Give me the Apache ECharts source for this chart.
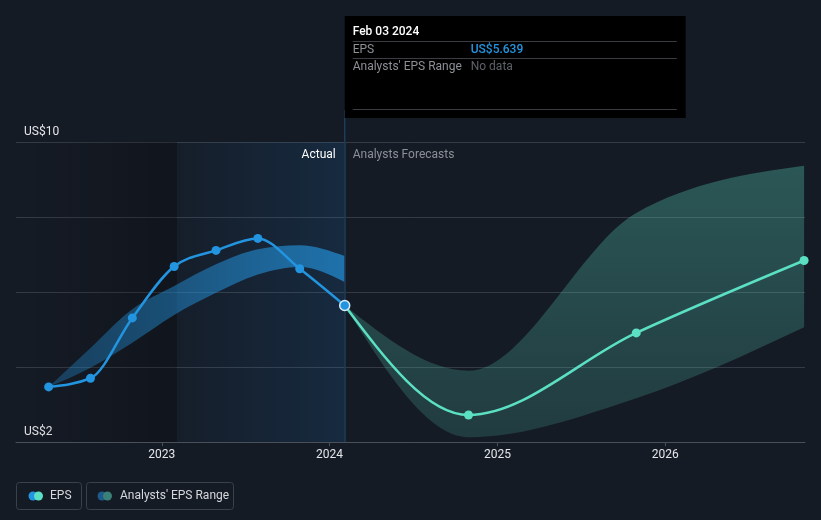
<!DOCTYPE html>
<html>
<head>
<meta charset="utf-8">
<script src="https://cdn.jsdelivr.net/npm/echarts@6/dist/echarts.min.js"></script>
<style>
  html, body { margin: 0; padding: 0; background: #151b25; }
  #chart { width: 821px; height: 520px; }
</style>
</head>
<body>
<div id="chart"></div>
<script>
// 实际 EPS（季度）
const epsDates = ['2022-04-30', '2022-07-30', '2022-10-29', '2023-01-28', '2023-04-29', '2023-07-29', '2023-10-28', '2024-02-03']
const epsValues = [3.47, 3.70, 5.31, 6.68, 7.11, 7.43, 6.62, 5.639]
// 过去的分析师区间
const pastLow = [3.47, 3.98, 4.65, 5.39, 5.98, 6.47, 6.67, 6.27]
const pastHigh = [3.47, 4.51, 5.54, 6.16, 6.74, 7.14, 7.25, 6.96]

// 预测
const fcDates = ['2024-02-03', '2024-10-30', '2025-10-30', '2026-10-30']
const fcValues = [5.639, 2.72, 4.91, 6.84]
const fcLow = [5.639, 2.13, 3.17, 5.06]
const fcHigh = [5.639, 3.90, 8.11, 9.37]

// 坐标轴
const xStart = '2022-02-18'
const xEnd = '2026-11-01'
const highlightStart = '2023-02-03'
const todayDate = '2024-02-03'
const yearTicks = [2023, 2024, 2025, 2026]
const yTickLabels = [2, 10]

const BLUE = '#2394df'
const MINT = '#5ce0c4'

// 日期 -> 小数年份
const toYear = (s) => {
  const d = new Date(s + 'T00:00:00Z')
  const y = d.getUTCFullYear()
  const a = Date.UTC(y, 0, 1)
  const b = Date.UTC(y + 1, 0, 1)
  return y + (d.getTime() - a) / (b - a)
}

const pair = (dates, vals) => dates.map((d, i) => [toYear(d), vals[i]])

// 单调三次曲线（同 d3 curveMonotoneX），返回每段贝塞尔控制点
const monotoneSegs = (pts) => {
  const n = pts.length
  const h = []
  const s = []
  for (let i = 0; i < n - 1; i++) {
    h[i] = pts[i + 1][0] - pts[i][0]
    s[i] = (pts[i + 1][1] - pts[i][1]) / h[i]
  }
  const t = new Array(n)
  if (n === 2) {
    t[0] = t[1] = s[0]
  } else {
    for (let i = 1; i < n - 1; i++) {
      const s0 = s[i - 1]
      const s1 = s[i]
      const p = (s0 * h[i] + s1 * h[i - 1]) / (h[i - 1] + h[i])
      t[i] = (Math.sign(s0) + Math.sign(s1)) * Math.min(Math.abs(s0), Math.abs(s1), 0.5 * Math.abs(p)) || 0
    }
    t[0] = (3 * s[0] - t[1]) / 2
    t[n - 1] = (3 * s[n - 2] - t[n - 2]) / 2
  }
  const segs = []
  for (let i = 0; i < n - 1; i++) {
    const dx = h[i] / 3
    segs.push({
      from: pts[i],
      c1: [pts[i][0] + dx, pts[i][1] + dx * t[i]],
      c2: [pts[i + 1][0] - dx, pts[i + 1][1] - dx * t[i + 1]],
      to: pts[i + 1],
    })
  }
  return segs
}

const P = (p) => p[0].toFixed(2) + ' ' + p[1].toFixed(2)

const linePath = (pts) => {
  const segs = monotoneSegs(pts)
  return 'M ' + P(pts[0]) + segs.map((g) => ' C ' + P(g.c1) + ' ' + P(g.c2) + ' ' + P(g.to)).join('')
}

const bandPath = (hiPts, loPts) => {
  const up = monotoneSegs(hiPts)
  const lo = monotoneSegs(loPts).reverse()
  let d = 'M ' + P(hiPts[0]) + up.map((g) => ' C ' + P(g.c1) + ' ' + P(g.c2) + ' ' + P(g.to)).join('')
  d += ' L ' + P(loPts[loPts.length - 1])
  d += lo.map((g) => ' C ' + P(g.c2) + ' ' + P(g.c1) + ' ' + P(g.from)).join('')
  return d + ' Z'
}

const chart = echarts.init(document.getElementById('chart'))

const font = 'Roboto, "Noto Sans", sans-serif'

const bandSeries = (dates, hi, lo, fill) => ({
  type: 'custom',
  silent: true,
  data: [pair(dates, hi)[0]],
  renderItem: (params, api) => {
    const hiPts = pair(dates, hi).map((p) => api.coord(p))
    const loPts = pair(dates, lo).map((p) => api.coord(p))
    return { type: 'path', shape: { pathData: bandPath(hiPts, loPts) }, style: { fill: fill } }
  },
  z: 2,
})

const lineSeries = (dates, vals, color) => ({
  type: 'custom',
  silent: true,
  data: [pair(dates, vals)[0]],
  renderItem: (params, api) => {
    const pts = pair(dates, vals).map((p) => api.coord(p))
    return {
      type: 'path',
      shape: { pathData: linePath(pts) },
      style: { fill: 'none', stroke: color, lineWidth: 2.5, lineJoin: 'round', lineCap: 'round' },
    }
  },
  z: 3,
})

const option = {
  backgroundColor: '#151b25',
  animation: false,
  textStyle: { fontFamily: font },
  grid: { left: 16, right: 16, top: 142, bottom: 78 },
  xAxis: {
    type: 'value',
    min: toYear(xStart),
    max: toYear(xEnd),
    axisLine: { lineStyle: { color: '#4a5059', width: 1 } },
    axisTick: { show: true, customValues: yearTicks, length: 4, lineStyle: { color: '#4a5059' } },
    axisLabel: { customValues: yearTicks, color: '#e4e6e9', fontSize: 12, margin: 7, formatter: (v) => String(Math.round(v)) },
    splitLine: { show: false },
  },
  yAxis: {
    type: 'value',
    min: 2,
    max: 10,
    interval: 2,
    axisLine: { show: false },
    axisTick: { show: false },
    axisLabel: {
      inside: true,
      margin: 8,
      verticalAlign: 'bottom',
      padding: [0, 0, 4, 0],
      color: '#e4e6e9',
      fontSize: 12,
      formatter: (v) => (yTickLabels.includes(v) ? 'US$' + v : ''),
    },
    splitLine: { lineStyle: { color: '#353b44', width: 1 } },
  },
  series: [
    // 背景区域
    {
      type: 'line',
      data: [],
      silent: true,
      markArea: {
        silent: true,
        data: [
          [
            {
              xAxis: toYear(xStart),
              itemStyle: {
                color: {
                  type: 'linear', x: 0, y: 0, x2: 1, y2: 0,
                  colorStops: [
                    { offset: 0, color: 'rgba(0,0,0,0)' },
                    { offset: 1, color: 'rgba(0,0,0,0.22)' },
                  ],
                },
              },
            },
            { xAxis: toYear(highlightStart) },
          ],
          [
            {
              xAxis: toYear(highlightStart),
              itemStyle: {
                color: {
                  type: 'linear', x: 0, y: 0, x2: 1, y2: 0,
                  colorStops: [
                    { offset: 0, color: 'rgba(30,120,200,0.03)' },
                    { offset: 1, color: 'rgba(30,120,200,0.16)' },
                  ],
                },
              },
            },
            { xAxis: toYear(todayDate) },
          ],
        ],
      },
      markLine: {
        silent: true,
        symbol: 'none',
        label: { show: false },
        lineStyle: { color: '#1f3c58', width: 1.5, type: 'solid' },
        data: [{ xAxis: toYear(todayDate) }],
      },
    },
    // 分析师区间
    bandSeries(epsDates, pastHigh, pastLow, new echarts.graphic.LinearGradient(0, 0, 1, 0, [
      { offset: 0, color: 'rgba(35,148,223,0.3)' },
      { offset: 1, color: 'rgba(35,148,223,0.68)' },
    ])),
    bandSeries(fcDates, fcHigh, fcLow, new echarts.graphic.LinearGradient(0, 0, 0, 1, [
      { offset: 0, color: 'rgba(88,208,186,0.33)' },
      { offset: 1, color: 'rgba(88,208,186,0.18)' },
    ])),
    // EPS 线
    lineSeries(fcDates, fcValues, MINT),
    lineSeries(epsDates, epsValues, BLUE),
    // 点
    {
      name: 'EPS forecast',
      type: 'scatter',
      silent: true,
      symbolSize: 9,
      itemStyle: { color: MINT, opacity: 1 },
      data: pair(fcDates.slice(1), fcValues.slice(1)),
      z: 4,
    },
    {
      name: 'EPS',
      type: 'scatter',
      silent: true,
      symbolSize: 9,
      itemStyle: { color: BLUE, opacity: 1 },
      data: pair(epsDates, epsValues).map((p, i, arr) =>
        i === arr.length - 1
          ? { value: p, symbolSize: 10, itemStyle: { color: BLUE, borderColor: '#d9ecfa', borderWidth: 1.5 } }
          : p
      ),
      z: 5,
    },
  ],
}

chart.setOption(option)

// 顶部提示框 + 图例
const lineX = chart.convertToPixel({ gridIndex: 0 }, [toYear(todayDate), 10])[0]
const gridTop = 142

chart.setOption({
  graphic: [
    // 竖线延伸到提示框
    { type: 'rect', shape: { x: lineX - 0.75, y: 110, width: 1.5, height: gridTop - 110 }, style: { fill: '#1f3c58' }, silent: true },
    // 提示框
    { type: 'rect', shape: { x: lineX, y: 16, width: 341, height: 102 }, style: { fill: '#000000' }, z: 10 },
    { type: 'text', x: lineX + 8, y: 32, style: { text: 'Feb 03 2024', fill: '#ffffff', font: '500 12px ' + font, verticalAlign: 'middle' }, z: 11 },
    { type: 'rect', shape: { x: lineX + 8, y: 41, width: 324, height: 1 }, style: { fill: '#3a3d42' }, z: 11 },
    { type: 'text', x: lineX + 8, y: 50, style: { text: 'EPS', fill: '#8c9096', font: '12px ' + font, verticalAlign: 'middle' }, z: 11 },
    { type: 'text', x: lineX + 126, y: 50, style: { text: 'US$5.639', fill: BLUE, font: '500 12px ' + font, verticalAlign: 'middle' }, z: 11 },
    { type: 'rect', shape: { x: lineX + 8, y: 58, width: 324, height: 1 }, style: { fill: '#3a3d42' }, z: 11 },
    { type: 'text', x: lineX + 8, y: 67, style: { text: "Analysts' EPS Range", fill: '#8c9096', font: '12px ' + font, verticalAlign: 'middle' }, z: 11 },
    { type: 'text', x: lineX + 126, y: 67, style: { text: 'No data', fill: '#5d6167', font: '12px ' + font, verticalAlign: 'middle' }, z: 11 },
    { type: 'rect', shape: { x: lineX + 8, y: 109, width: 324, height: 1 }, style: { fill: '#3a3d42' }, z: 11 },
    // Actual / Analysts Forecasts
    { type: 'text', x: lineX - 9, y: 155, style: { text: 'Actual', fill: '#ffffff', font: '12px ' + font, align: 'right', verticalAlign: 'middle' }, z: 11 },
    { type: 'text', x: lineX + 8, y: 155, style: { text: 'Analysts Forecasts', fill: '#8c9096', font: '12px ' + font, verticalAlign: 'middle' }, z: 11 },
    // 图例
    { type: 'rect', shape: { x: 16.5, y: 482.5, width: 65, height: 27, r: 3 }, style: { fill: 'none', stroke: '#3b4049', lineWidth: 1 } },
    { type: 'circle', shape: { cx: 33, cy: 496, r: 4.5 }, style: { fill: BLUE } },
    { type: 'circle', shape: { cx: 38.5, cy: 496, r: 4.5 }, style: { fill: MINT } },
    { type: 'text', x: 50, y: 496, style: { text: 'EPS', fill: '#d5d8dc', font: '12px ' + font, verticalAlign: 'middle' } },
    { type: 'rect', shape: { x: 86.5, y: 482.5, width: 147, height: 27, r: 3 }, style: { fill: 'none', stroke: '#3b4049', lineWidth: 1 } },
    { type: 'circle', shape: { cx: 102, cy: 496, r: 4.5 }, style: { fill: '#1e5b88' } },
    { type: 'circle', shape: { cx: 107.5, cy: 496, r: 4.5 }, style: { fill: '#3a8078' } },
    { type: 'text', x: 120, y: 496, style: { text: "Analysts' EPS Range", fill: '#d5d8dc', font: '12px ' + font, verticalAlign: 'middle' } },
  ],
})
</script>
</body>
</html>
